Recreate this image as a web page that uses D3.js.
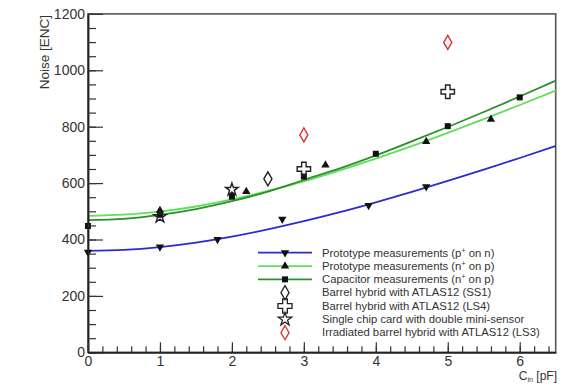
<!DOCTYPE html>
<html>
<head>
<meta charset="utf-8">
<script src="https://cdn.jsdelivr.net/npm/d3@7"></script>
<style>
  body { margin: 0; background: #fff; }
  svg { display: block; font-family: "Liberation Sans", Arial, sans-serif; }
</style>
</head>
<body>
<div class="graph"></div>
<script>
// fit curves at these C_in values
const curveC = [0, 0.5, 1, 1.5, 2, 2.5, 3, 3.5, 4, 4.5, 5, 5.5, 6, 6.5];
const fitPonN = [360, 363, 373, 389, 410, 436, 465, 497, 532, 569, 608, 648, 689, 732];
const fitNonP = [484, 488, 499, 517, 542, 572, 606, 645, 687, 731, 778, 827, 877, 928];
const fitCap = [469, 473, 487, 508, 536, 570, 611, 652, 698, 748, 799, 852, 907, 963];

// measured points [C_in, noise]
const ptsPonN = [[0, 355], [1, 374], [1.8, 400], [2.7, 472], [3.9, 521], [4.7, 587]];
const ptsNonP = [[1, 503], [2.2, 570], [3.3, 664], [4.7, 747], [5.6, 826]];
const ptsCap = [[0, 448], [1, 488], [2, 552], [3, 623], [4, 704], [5, 802], [6, 904]];
const ptsSS1 = [[2.5, 615]];
const ptsLS4 = [[3, 650], [5, 924]];
const ptsMini = [[1, 481], [2, 577]];
const ptsLS3 = [[3, 771], [5, 1099]];

const xTicks = [0, 1, 2, 3, 4, 5, 6];
const yTicks = [0, 200, 400, 600, 800, 1000, 1200];

const legendLabels = [
  ["Prototype measurements (p", "+", " on n)"],
  ["Prototype measurements (n", "+", " on p)"],
  ["Capacitor measurements (n", "+", " on p)"],
  ["Barrel hybrid with ATLAS12 (SS1)"],
  ["Barrel hybrid with ATLAS12 (LS4)"],
  ["Single chip card with double mini-sensor"],
  ["Irradiated barrel hybrid with ATLAS12 (LS3)"]
];

const W = 571, H = 384;
const pl = 88, pr = 555.7, pt = 13.9, pb = 352.3;

const svg = d3.select(".graph").append("svg")
  .attr("width", W).attr("height", H);

const x = d3.scaleLinear().domain([0, 6.5]).range([pl, pr]);
const y = d3.scaleLinear().domain([0, 1200]).range([pb, pt]);

// frame
svg.append("rect")
  .attr("x", pl).attr("y", pt)
  .attr("width", pr - pl).attr("height", pb - pt)
  .attr("fill", "none").attr("stroke", "#555").attr("stroke-width", 1.6);

// curves
const line = d3.line().x(d => x(d[0])).y(d => y(d[1])).curve(d3.curveNatural);
const curves = [
  { vals: fitNonP, color: "#62de5c" },
  { vals: fitCap, color: "#2a922a" },
  { vals: fitPonN, color: "#2b2bd2" }
];
curves.forEach(c => {
  svg.append("path")
    .datum(curveC.map((v, i) => [v, c.vals[i]]))
    .attr("fill", "none")
    .attr("stroke", c.color)
    .attr("stroke-width", 1.8)
    .attr("d", line);
});

// markers
const styles = {
  down: { type: d3.symbolTriangle, size: 30, rot: 180, fill: "#111", stroke: "none" },
  up: { type: d3.symbolTriangle, size: 30, rot: 0, fill: "#111", stroke: "none" },
  square: { type: d3.symbolSquare, size: 36, rot: 0, fill: "#111", stroke: "none" },
  diamond: { type: d3.symbolDiamond, size: 57, rot: 0, fill: "none", stroke: "#222" },
  cross: { type: d3.symbolCross, size: 100, rot: 0, fill: "none", stroke: "#222" },
  star: { type: d3.symbolStar, size: 48, rot: 0, fill: "none", stroke: "#222" },
  red: { type: d3.symbolDiamond, size: 57, rot: 0, fill: "none", stroke: "#e03030" }
};

function drawMarkers(data, st) {
  const s = styles[st];
  svg.append("g").selectAll("path").data(data).join("path")
    .attr("transform", d => `translate(${x(d[0])},${y(d[1])}) rotate(${s.rot})`)
    .attr("d", d3.symbol().type(s.type).size(s.size))
    .attr("fill", s.fill)
    .attr("stroke", s.stroke)
    .attr("stroke-width", 1.4);
}
drawMarkers(ptsCap, "square");
drawMarkers(ptsNonP, "up");
drawMarkers(ptsPonN, "down");
drawMarkers(ptsSS1, "diamond");
drawMarkers(ptsLS4, "cross");
drawMarkers(ptsMini, "star");
drawMarkers(ptsLS3, "red");

// axes, ticks pointing inward like ROOT
const fmt = d3.format("d");
svg.append("g").attr("transform", `translate(${pl},0)`)
  .call(d3.axisLeft(y).tickValues(yTicks).tickFormat(fmt).tickSizeInner(-15).tickSizeOuter(0).tickPadding(3));
svg.append("g").attr("transform", `translate(${pl},0)`)
  .call(d3.axisLeft(y).tickValues(d3.range(0, 1201, 50)).tickSizeInner(-8).tickSizeOuter(0).tickFormat(""));
svg.append("g").attr("transform", `translate(0,${pb})`)
  .call(d3.axisBottom(x).tickValues(xTicks).tickFormat(fmt).tickSizeInner(-10).tickSizeOuter(0).tickPadding(4));
svg.append("g").attr("transform", `translate(0,${pb})`)
  .call(d3.axisBottom(x).tickValues(d3.range(0, 6.45, 0.2)).tickSizeInner(-6).tickSizeOuter(0).tickFormat(""));

svg.selectAll(".domain").attr("stroke", "#222").attr("stroke-width", 1.5);
svg.selectAll(".tick line").attr("stroke", "#333").attr("stroke-width", 1.2);
svg.selectAll(".tick text").attr("font-size", 14).attr("fill", "#333")
  .attr("font-family", "'Liberation Sans', Arial, sans-serif");

// axis titles
svg.append("text")
  .attr("transform", "translate(49,15) rotate(-90)")
  .attr("text-anchor", "end")
  .attr("font-size", 13.5).attr("fill", "#333")
  .text("Noise [ENC]");

const xt = svg.append("text")
  .attr("x", 557).attr("y", 380)
  .attr("text-anchor", "end")
  .attr("font-size", 12).attr("fill", "#333");
xt.append("tspan").text("C");
xt.append("tspan").attr("font-size", 7).attr("dy", 2).text("in");
xt.append("tspan").attr("dy", -2).text(" [pF]");

// legend
const legMarkers = ["down", "up", "square", "diamond", "cross", "star", "red"];
const legLines = ["#2b2bd2", "#62de5c", "#2a922a", null, null, null, null];
const legSizes = { cross: 110, star: 55 };
const leg = svg.append("g");
legendLabels.forEach((lab, i) => {
  const ly = 252.7 + i * 13.33;
  if (legLines[i]) {
    leg.append("line")
      .attr("x1", 258).attr("x2", 312).attr("y1", ly).attr("y2", ly)
      .attr("stroke", legLines[i]).attr("stroke-width", 1.8);
  }
  const s = styles[legMarkers[i]];
  leg.append("path")
    .attr("transform", `translate(285,${ly}) rotate(${s.rot})`)
    .attr("d", d3.symbol().type(s.type).size(legSizes[legMarkers[i]] || s.size))
    .attr("fill", s.fill).attr("stroke", s.stroke).attr("stroke-width", 1.3);
  const t = leg.append("text")
    .attr("x", 322).attr("y", ly + 3.8)
    .attr("font-size", 11.3).attr("fill", "#333");
  t.append("tspan").text(lab[0]);
  if (lab.length > 1) {
    t.append("tspan").attr("font-size", 7).attr("dy", -4).text(lab[1]);
    t.append("tspan").attr("dy", 4).text(lab[2]);
  }
});
</script>
</body>
</html>
